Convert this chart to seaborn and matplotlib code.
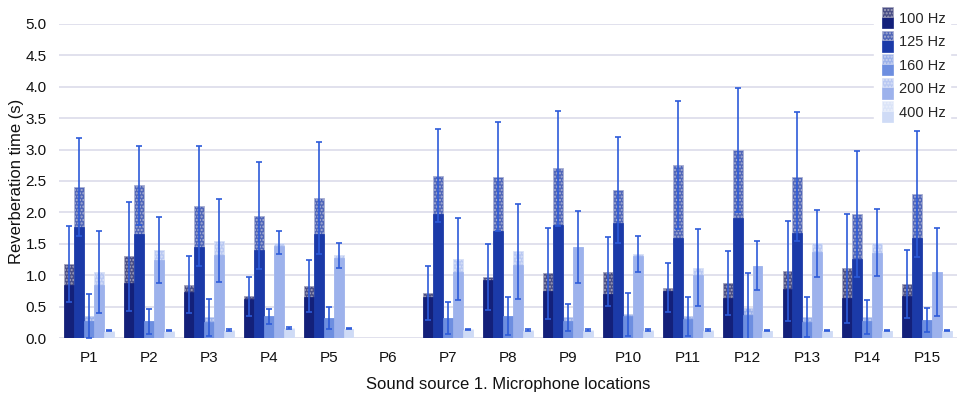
import numpy as np
import pandas as pd
import seaborn as sns
import matplotlib
import matplotlib.pyplot as plt
import matplotlib.patches as patches
from matplotlib.legend_handler import HandlerBase

matplotlib.use('Agg')

locations = ['P1', 'P2', 'P3', 'P4', 'P5', 'P6', 'P7', 'P8', 'P9', 'P10',
             'P11', 'P12', 'P13', 'P14', 'P15']
freqs = ['100 Hz', '125 Hz', '160 Hz', '200 Hz', '400 Hz']

# lower (solid) part of each bar
lower_100 = [0.85, 0.87, 0.73, 0.62, 0.65, 0, 0.65, 0.92, 0.75, 0.70, 0.75, 0.64, 0.78, 0.64, 0.67]
lower_125 = [1.77, 1.65, 1.45, 1.40, 1.65, 0, 1.98, 1.70, 1.80, 1.83, 1.60, 1.91, 1.67, 1.26, 1.59]
lower_160 = [0.27, 0.27, 0.25, 0.35, 0.32, 0, 0.32, 0.35, 0.27, 0.35, 0.30, 0.37, 0.26, 0.27, 0.29]
lower_200 = [0.85, 1.25, 1.33, 1.47, 1.27, 0, 1.05, 1.17, 1.45, 1.30, 1.00, 1.15, 1.37, 1.35, 1.05]
lower_400 = [0.10, 0.10, 0.11, 0.15, 0.14, 0, 0.13, 0.12, 0.12, 0.12, 0.12, 0.11, 0.12, 0.12, 0.12]

# full height of each bar (top of hatched part)
upper_100 = [1.18, 1.30, 0.85, 0.67, 0.83, 0, 0.72, 0.97, 1.03, 1.06, 0.80, 0.88, 1.07, 1.11, 0.86]
upper_125 = [2.40, 2.43, 2.10, 1.95, 2.23, 0, 2.58, 2.57, 2.70, 2.36, 2.75, 2.99, 2.57, 1.97, 2.29]
upper_160 = [0.35, 0.27, 0.33, 0.35, 0.32, 0, 0.32, 0.35, 0.33, 0.38, 0.35, 0.48, 0.34, 0.34, 0.29]
upper_200 = [1.05, 1.40, 1.55, 1.52, 1.32, 0, 1.26, 1.38, 1.45, 1.34, 1.12, 1.15, 1.51, 1.52, 1.05]
upper_400 = [0.12, 0.12, 0.13, 0.16, 0.15, 0, 0.14, 0.13, 0.13, 0.13, 0.13, 0.12, 0.12, 0.12, 0.12]

# error (+/-) around the full height
err_100 = [0.60, 0.87, 0.45, 0.31, 0.42, np.nan, 0.43, 0.53, 0.72, 0.55, 0.39, 0.51, 0.80, 0.87, 0.54]
err_125 = [0.78, 0.63, 0.95, 0.85, 0.89, np.nan, 0.74, 0.87, 0.92, 0.84, 1.02, 0.99, 1.03, 1.00, 1.00]
err_160 = [0.35, 0.20, 0.29, 0.12, 0.18, np.nan, 0.25, 0.30, 0.22, 0.34, 0.31, 0.55, 0.32, 0.27, 0.19]
err_200 = [0.65, 0.53, 0.66, 0.18, 0.20, np.nan, 0.65, 0.75, 0.58, 0.29, 0.61, 0.39, 0.53, 0.53, 0.70]
err_400 = [0.01, 0.01, 0.01, 0.01, 0.01, np.nan, 0.01, 0.01, 0.01, 0.01, 0.01, 0.01, 0.01, 0.01, 0.01]

lowers = [lower_100, lower_125, lower_160, lower_200, lower_400]
uppers = [upper_100, upper_125, upper_160, upper_200, upper_400]
errs = [err_100, err_125, err_160, err_200, err_400]

solid_colors = ['#13207a', '#1b3aa8', '#6d8ee0', '#9db2ec', '#cfdbf6']
hatch_fill = ['#4a4f86', '#5066b8', '#9cb2ea', '#b9c8f2', '#dbe4f8']
hatch_ink = ['#a4a4bc', '#aab0d2', '#cad3ef', '#d9e1f6', '#eaeffa']
err_color = '#2d5bd9'

rows = []
for f, lo, up, er in zip(freqs, lowers, uppers, errs):
    for loc, a, b, e in zip(locations, lo, up, er):
        rows.append({'location': loc, 'freq': f, 'lower': a, 'upper': b, 'err': e})
df = pd.DataFrame(rows)

sns.set_theme(style='white')
plt.rcParams['font.family'] = ['Liberation Sans', 'DejaVu Sans']
plt.rcParams['hatch.linewidth'] = 1.0

fig = plt.figure(figsize=(9.57, 4.04), dpi=100)
ax = fig.add_axes([0.062, 0.163, 0.938, 0.778])

# full bars (hatched upper part)
sns.barplot(data=df, x='location', y='upper', hue='freq', palette=hatch_fill,
            width=0.83, errorbar=None, ax=ax, legend=False, saturation=1)
for i, cont in enumerate(ax.containers):
    for p in cont:
        p.set_hatch('.....')
        p.set_edgecolor(hatch_ink[i])
        p.set_linewidth(0.6)
        p.set_zorder(2)
n_full = len(ax.containers)

# solid lower part
sns.barplot(data=df, x='location', y='lower', hue='freq', palette=solid_colors,
            width=0.83, errorbar=None, ax=ax, legend=False, saturation=1)
for i, cont in enumerate(ax.containers[n_full:]):
    for p in cont:
        p.set_edgecolor(solid_colors[i])
        p.set_linewidth(0.5)
        p.set_zorder(3)

# error bars centred on the bar tops
for i, cont in enumerate(ax.containers[:n_full]):
    xs = [p.get_x() + p.get_width() / 2 for p in cont]
    ax.errorbar(xs, uppers[i], yerr=errs[i], fmt='none', ecolor=err_color,
                elinewidth=1.2, capsize=2.3, capthick=1.2, zorder=4)

ax.set_ylim(0, 5.0)
ax.set_xlim(-0.5, 14.5)
ax.set_yticks(np.arange(0, 5.01, 0.5))
ax.set_yticklabels(['{:.1f}'.format(v) for v in np.arange(0, 5.01, 0.5)])
ax.yaxis.grid(True, color='#dcdcea', linewidth=1.2, zorder=0)
ax.set_axisbelow(True)
sns.despine(ax=ax, left=True, bottom=True)
ax.tick_params(axis='both', length=0, labelsize=11, colors='#111111')
ax.tick_params(axis='y', pad=9)
ax.tick_params(axis='x', pad=9)
ax.set_ylabel('Reverberation time (s)', fontsize=12, color='#111111', labelpad=1)
ax.set_xlabel('Sound source 1. Microphone locations', fontsize=12, color='#111111', labelpad=9)


class StackHandler(HandlerBase):
    def create_artists(self, legend, orig_handle, xdescent, ydescent,
                       width, height, fontsize, trans):
        i = orig_handle
        w = 8
        x0 = -xdescent + width - w
        y0 = -ydescent - 4
        h = height + 8
        bottom = patches.Rectangle((x0, y0), w, h * 0.55, facecolor=solid_colors[i],
                                   edgecolor=solid_colors[i], lw=0.5, transform=trans)
        top = patches.Rectangle((x0, y0 + h * 0.55), w, h * 0.45, facecolor=hatch_fill[i],
                                edgecolor=hatch_ink[i], hatch='.....', lw=0.5, transform=trans)
        return [bottom, top]


handles = list(range(len(freqs)))
leg = ax.legend(handles, freqs, handler_map={int: StackHandler()},
                loc='upper right', bbox_to_anchor=(1.0, 1.075), frameon=True,
                framealpha=1, facecolor='white', edgecolor='white',
                fontsize=10.5, handlelength=1.0, handletextpad=0.4,
                labelspacing=0.65, borderpad=0.3)
leg.set_zorder(5)

fig.savefig('out.png', dpi=100)
